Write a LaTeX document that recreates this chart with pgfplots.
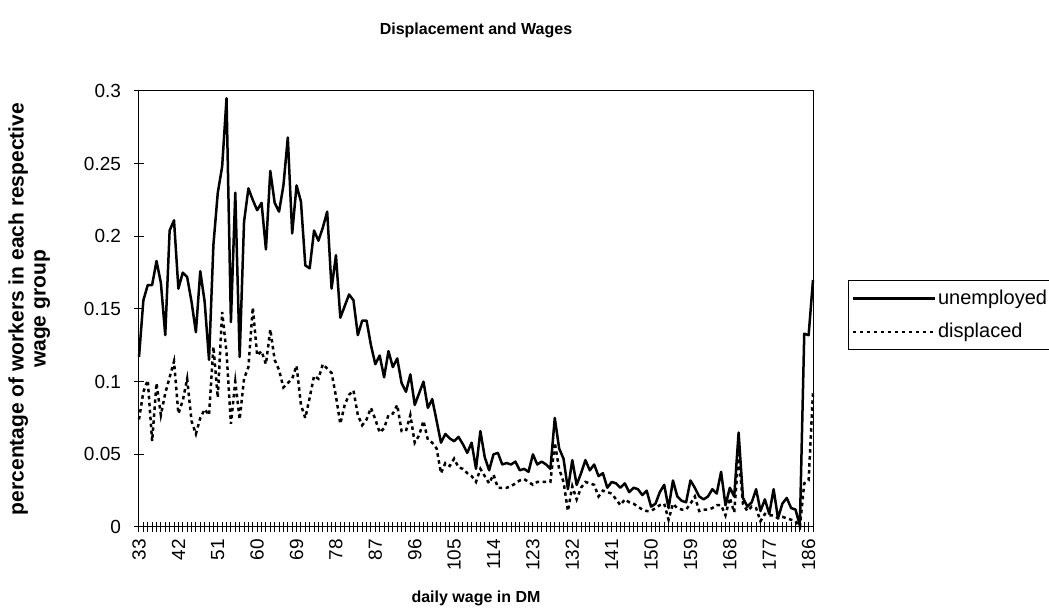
\documentclass[border=0pt]{standalone}
\usepackage{fontspec}
\setmainfont{Liberation Sans}
\usepackage{pgfplots}
\usepackage{pgfplotstable}
\pgfplotsset{compat=1.18}

% daily wage (DM), share unemployed, share displaced
\pgfplotstableread{
w u d
33 0.117 0.074
34 0.156 0.093
35 0.1665 0.101
36 0.1665 0.059
37 0.183 0.099
38 0.168 0.077
39 0.132 0.092
40 0.204 0.103
41 0.211 0.114
42 0.164 0.078
43 0.175 0.087
44 0.172 0.102
45 0.155 0.073
46 0.134 0.064
47 0.176 0.075
48 0.155 0.081
49 0.115 0.077
50 0.194 0.124
51 0.230 0.089
52 0.248 0.148
53 0.295 0.120
54 0.141 0.071
55 0.230 0.100
56 0.117 0.074
57 0.210 0.102
58 0.233 0.110
59 0.225 0.151
60 0.218 0.118
61 0.223 0.121
62 0.191 0.112
63 0.245 0.136
64 0.223 0.115
65 0.217 0.108
66 0.235 0.096
67 0.268 0.099
68 0.202 0.102
69 0.235 0.111
70 0.224 0.084
71 0.180 0.075
72 0.178 0.089
73 0.204 0.104
74 0.197 0.102
75 0.206 0.112
76 0.217 0.109
77 0.164 0.106
78 0.187 0.090
79 0.144 0.071
80 0.152 0.084
81 0.160 0.091
82 0.156 0.094
83 0.132 0.077
84 0.142 0.070
85 0.142 0.074
86 0.125 0.082
87 0.112 0.074
88 0.118 0.065
89 0.103 0.068
90 0.121 0.077
91 0.110 0.078
92 0.116 0.084
93 0.099 0.066
94 0.093 0.066
95 0.105 0.077
96 0.084 0.058
97 0.092 0.063
98 0.100 0.073
99 0.082 0.060
100 0.088 0.058
101 0.073 0.054
102 0.058 0.037
103 0.064 0.044
104 0.061 0.042
105 0.059 0.047
106 0.062 0.041
107 0.057 0.040
108 0.051 0.037
109 0.058 0.035
110 0.040 0.031
111 0.066 0.040
112 0.048 0.035
113 0.039 0.030
114 0.050 0.036
115 0.051 0.027
116 0.043 0.027
117 0.044 0.027
118 0.043 0.028
119 0.045 0.030
120 0.039 0.032
121 0.040 0.033
122 0.038 0.031
123 0.050 0.029
124 0.043 0.031
125 0.045 0.031
126 0.043 0.031
127 0.040 0.031
128 0.075 0.058
129 0.054 0.040
130 0.047 0.031
131 0.026 0.011
132 0.046 0.028
133 0.029 0.019
134 0.037 0.027
135 0.046 0.031
136 0.039 0.030
137 0.043 0.029
138 0.035 0.021
139 0.037 0.025
140 0.027 0.024
141 0.031 0.023
142 0.030 0.019
143 0.027 0.015
144 0.030 0.019
145 0.024 0.017
146 0.027 0.016
147 0.026 0.014
148 0.022 0.012
149 0.025 0.011
150 0.014 0.011
151 0.016 0.013
152 0.024 0.015
153 0.029 0.016
154 0.013 0.005
155 0.032 0.016
156 0.021 0.013
157 0.018 0.012
158 0.017 0.012
159 0.032 0.016
160 0.027 0.021
161 0.021 0.011
162 0.019 0.012
163 0.021 0.012
164 0.026 0.013
165 0.023 0.015
166 0.038 0.015
167 0.015 0.008
168 0.027 0.020
169 0.021 0.010
170 0.065 0.050
171 0.020 0.016
172 0.014 0.011
173 0.017 0.014
174 0.026 0.013
175 0.011 0.004
176 0.019 0.009
177 0.009 0.008
178 0.026 0.008
179 0.006 0.006
180 0.016 0.007
181 0.020 0.006
182 0.013 0.005
183 0.012 0.004
184 0.001 0.000
185 0.133 0.030
186 0.132 0.032
187 0.170 0.093
}\wagedata

\begin{document}
\begin{tikzpicture}[x=1pt,y=1pt]
\useasboundingbox (0,0) rectangle (524.5,306.5);
\begin{axis}[
  at={(69.5pt,43pt)}, anchor=south west,
  width=337pt, height=218pt, scale only axis,
  xmin=33, xmax=187, ymin=0, ymax=0.3,
  xtick={33,42,51,60,69,78,87,96,105,114,123,132,141,150,159,168,177,186},
  xticklabels={33,42,51,60,69,78,87,96,105,114,123,132,141,150,159,168,177,186},
  minor xtick={33,...,187},
  ytick={0,0.05,0.1,0.15,0.2,0.25,0.3},
  yticklabels={0,0.05,0.1,0.15,0.2,0.25,0.3},
  xtick pos=bottom, ytick pos=left,
  tick align=center,
  major tick length=5pt, minor tick length=5pt,
  tick style={black, line width=0.5pt},
  axis line style={line width=0.5pt},
  x tick label style={rotate=90, anchor=east, font=\fontsize{9.5}{11}\selectfont},
  y tick label style={font=\fontsize{9.5}{11}\selectfont, xshift=-3pt},
  title={Displacement and Wages},
  title style={at={(0.5,1)}, anchor=center, yshift=24.5pt, font=\fontsize{8}{10}\selectfont\bfseries},
  xlabel={daily wage in DM},
  xlabel style={at={(0.5,0)}, anchor=center, yshift=-35.5pt, font=\fontsize{8}{10}\selectfont\bfseries},
  ylabel={percentage of workers in each respective\\wage group},
  ylabel style={at={(-0.163,0.5)}, anchor=center, align=center, font=\fontsize{10.5}{11}\selectfont\bfseries},
  legend style={at={(1.052,0.486)}, anchor=west, draw=black, line width=0.5pt,
    font=\fontsize{10}{12}\selectfont, inner xsep=1.5pt, inner ysep=2.5pt, row sep=4pt,
    nodes={inner xsep=1pt}},
  legend cell align=left,
  legend image code/.code={\draw[#1] (0pt,0pt) -- (41pt,0pt);},
  clip=false,
]
\addplot[black, line width=1.25pt, line join=round] table[x=w, y=u] {\wagedata};
\addlegendentry{unemployed}
\addplot[black, line width=1.25pt, dash pattern=on 1.75pt off 1.75pt] table[x=w, y=d] {\wagedata};
\addlegendentry{displaced}
\end{axis}
\end{tikzpicture}
\end{document}
